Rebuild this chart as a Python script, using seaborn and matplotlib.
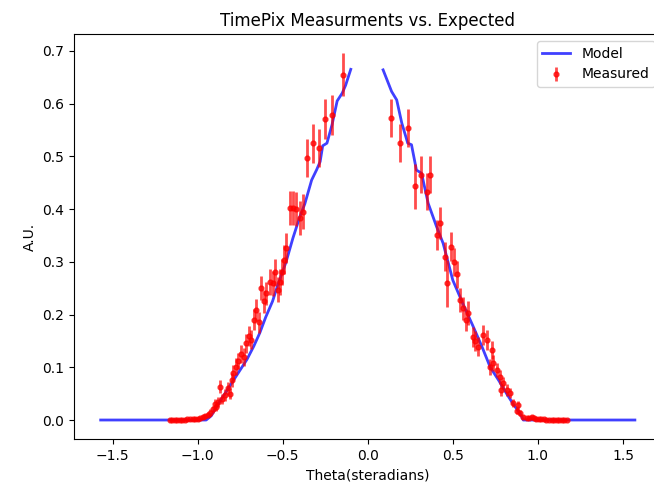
import numpy as np
import matplotlib
matplotlib.use('Agg')
import matplotlib.pyplot as plt
import seaborn as sns

# model curve (two halves, gap around 0)
left_model_x = [-1.57, -0.95, -0.92, -0.89, -0.85, -0.80, -0.75, -0.71, -0.67, -0.635,
                -0.60, -0.56, -0.53, -0.48, -0.44, -0.40, -0.37, -0.33, -0.30, -0.28,
                -0.265, -0.24, -0.21, -0.18, -0.15, -0.13, -0.10]
left_model_y = [0.0, 0.0, 0.008, 0.025, 0.045, 0.07, 0.095, 0.115, 0.14, 0.165,
                0.195, 0.225, 0.255, 0.30, 0.345, 0.385, 0.41, 0.455, 0.475, 0.49,
                0.52, 0.525, 0.56, 0.605, 0.62, 0.635, 0.665]
right_model_x = [0.09, 0.14, 0.17, 0.20, 0.235, 0.257, 0.286, 0.316, 0.355, 0.404, 0.443,
                 0.50, 0.56, 0.62, 0.67, 0.72, 0.77, 0.816, 0.855, 0.894, 0.914, 1.57]
right_model_y = [0.664, 0.623, 0.607, 0.563, 0.525, 0.522, 0.474, 0.468, 0.411, 0.367, 0.335,
                 0.265, 0.22, 0.177, 0.14, 0.10, 0.075, 0.05, 0.03, 0.013, 0.0, 0.0]

# measured points
left_x = [-1.165, -1.15, -1.135, -1.12, -1.105, -1.09, -1.075, -1.06, -1.045, -1.03,
          -1.015, -1.0, -0.985, -0.97, -0.955, -0.94, -0.925, -0.91, -0.90, -0.89,
          -0.88, -0.87, -0.855, -0.84, -0.82, -0.81, -0.80, -0.79, -0.775, -0.76,
          -0.743, -0.73, -0.714, -0.70, -0.685, -0.67, -0.655, -0.64, -0.625, -0.61,
          -0.596, -0.575, -0.557, -0.547, -0.527, -0.518, -0.502, -0.494, -0.478, -0.459,
          -0.44, -0.42, -0.40, -0.38, -0.357, -0.322, -0.286, -0.249, -0.208, -0.145]
left_y = [0.0, 0.0, 0.0, 0.0, 0.0, 0.0, 0.0, 0.001, 0.001, 0.001,
          0.002, 0.002, 0.003, 0.005, 0.007, 0.010, 0.014, 0.020, 0.030, 0.025,
          0.034, 0.063, 0.040, 0.047, 0.060, 0.050, 0.076, 0.090, 0.101, 0.112,
          0.125, 0.120, 0.146, 0.160, 0.152, 0.190, 0.209, 0.185, 0.250, 0.225,
          0.240, 0.262, 0.259, 0.280, 0.247, 0.262, 0.281, 0.304, 0.326, 0.402,
          0.402, 0.400, 0.383, 0.395, 0.497, 0.525, 0.516, 0.571, 0.579, 0.655]
left_err = [0.002, 0.002, 0.002, 0.002, 0.002, 0.002, 0.002, 0.003, 0.003, 0.003,
            0.003, 0.003, 0.003, 0.004, 0.004, 0.005, 0.006, 0.007, 0.009, 0.008,
            0.010, 0.012, 0.010, 0.011, 0.012, 0.011, 0.014, 0.015, 0.016, 0.016,
            0.017, 0.017, 0.018, 0.019, 0.018, 0.020, 0.021, 0.020, 0.023, 0.022,
            0.022, 0.024, 0.024, 0.025, 0.024, 0.025, 0.025, 0.027, 0.028, 0.033,
            0.033, 0.033, 0.032, 0.033, 0.036, 0.037, 0.036, 0.038, 0.038, 0.041]

right_x = [0.139, 0.192, 0.237, 0.276, 0.31, 0.349, 0.365, 0.404, 0.424, 0.453,
           0.463, 0.492, 0.505, 0.522, 0.541, 0.561, 0.58, 0.59, 0.62, 0.629,
           0.649, 0.679, 0.698, 0.718, 0.728, 0.737, 0.757, 0.776, 0.786, 0.796,
           0.816, 0.835, 0.855, 0.875, 0.884, 0.894, 0.914, 0.933, 0.95, 0.963,
           0.975, 0.99, 1.005, 1.02, 1.035, 1.05, 1.065, 1.08, 1.095, 1.11,
           1.125, 1.14, 1.155, 1.17]
right_y = [0.572, 0.526, 0.553, 0.443, 0.465, 0.433, 0.465, 0.351, 0.374, 0.310,
           0.259, 0.329, 0.300, 0.276, 0.228, 0.212, 0.190, 0.203, 0.158, 0.150,
           0.139, 0.162, 0.152, 0.101, 0.133, 0.108, 0.095, 0.082, 0.057, 0.070,
           0.057, 0.051, 0.032, 0.018, 0.028, 0.013, 0.006, 0.003, 0.004, 0.006,
           0.003, 0.002, 0.001, 0.001, 0.001, 0.0, 0.0, 0.0, 0.0, 0.0,
           0.0, 0.0, 0.0, 0.0]
right_err = [0.036, 0.036, 0.036, 0.042, 0.035, 0.035, 0.035, 0.029, 0.030, 0.027,
             0.045, 0.028, 0.027, 0.026, 0.023, 0.022, 0.021, 0.022, 0.019, 0.019,
             0.018, 0.019, 0.019, 0.015, 0.017, 0.015, 0.014, 0.013, 0.011, 0.012,
             0.011, 0.010, 0.008, 0.007, 0.008, 0.006, 0.004, 0.003, 0.003, 0.004,
             0.003, 0.003, 0.002, 0.002, 0.002, 0.002, 0.002, 0.002, 0.002, 0.002,
             0.002, 0.002, 0.002, 0.002]

fig = plt.figure(figsize=(6.54, 4.83), dpi=100)
ax = fig.add_axes([0.1131, 0.0911, 0.8985, 0.8385])

sns.lineplot(x=left_model_x, y=left_model_y, color='blue', alpha=0.75, lw=2,
             estimator=None, label='Model', ax=ax)
sns.lineplot(x=right_model_x, y=right_model_y, color='blue', alpha=0.75, lw=2,
             estimator=None, label='_nolegend_', ax=ax)

ax.errorbar(left_x + right_x, left_y + right_y, yerr=left_err + right_err,
            fmt='o', ms=3.5, color='red', alpha=0.7, elinewidth=2, label='Measured')

ax.set_xlim(-1.727, 1.727)
ax.set_ylim(-0.036, 0.732)
ax.set_title('TimePix Measurments vs. Expected')
ax.set_xlabel('Theta(steradians)')
ax.set_ylabel('A.U.')
ax.legend(loc='upper right')

fig.savefig('out.png', dpi=100)
